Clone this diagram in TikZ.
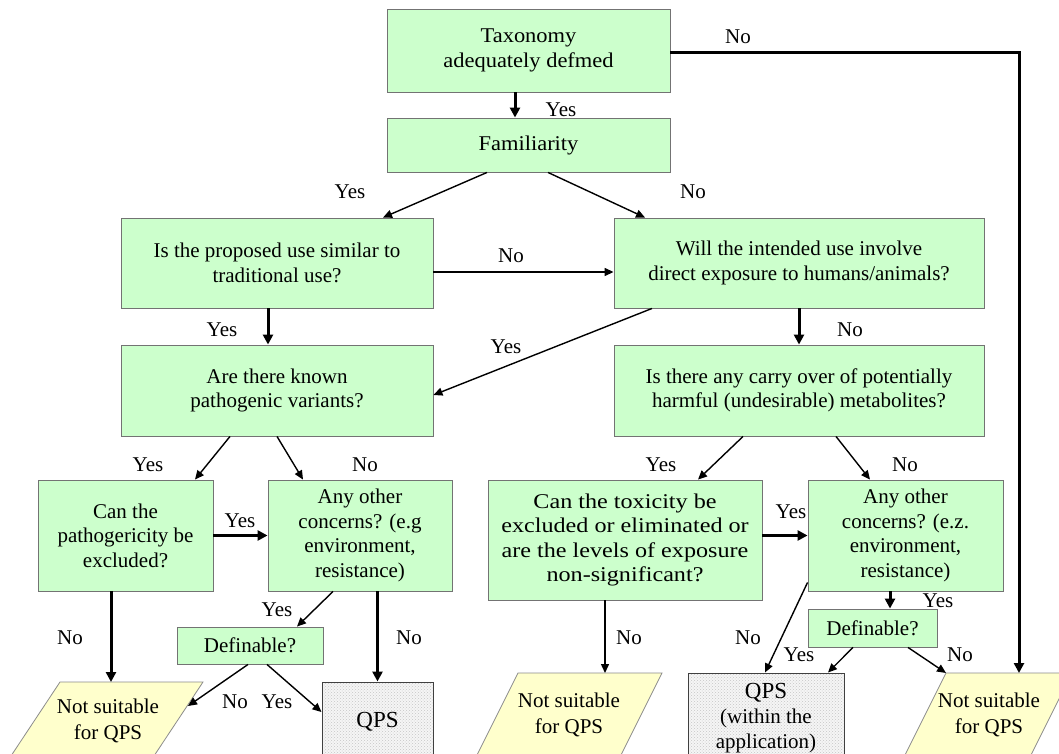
\documentclass[tikz,border=0pt]{standalone}
\usepackage{fontspec}
\setmainfont{Liberation Serif}
\newfontfamily\widefont{Liberation Serif}[FakeStretch=1.15]
\newfontfamily\semiwide{Liberation Serif}[FakeStretch=1.07]
\usetikzlibrary{arrows.meta,patterns,calc}
\definecolor{boxgreen}{HTML}{CCFFCC}
\definecolor{boxyellow}{HTML}{FFFFCC}
\tikzset{
  box/.style={draw=black!55, line width=0.9pt, fill=boxgreen, inner sep=0pt, align=center,
    font=\fontsize{21}{24.5}\selectfont},
  qpsbox/.style={draw=black!75, line width=1pt, preaction={fill=gray!8}, pattern=crosshatch dots,
    pattern color=gray!45, inner sep=0pt, align=center, font=\fontsize{21}{25}\selectfont},
  nsshape/.style={draw=black!45, line width=0.8pt, fill=boxyellow},
  nstext/.style={inner sep=0pt, align=center, font=\fontsize{21}{26}\selectfont},
  lbl/.style={inner sep=0pt, font=\fontsize{21}{24}\selectfont},
  conn/.style={line width=1.4pt, -{Triangle[length=9pt,width=8pt]}},
  boldconn/.style={line width=3pt, -{Triangle[length=10pt,width=10pt]}}
}
\begin{document}
\begin{tikzpicture}[x=1pt,y=-1pt]
\useasboundingbox (0,0) rectangle (1059,754);
\clip (0,0) rectangle (1059,754);
\fill[white] (0,0) rectangle (1059,754);

% green boxes
\node[box, minimum width=283pt, minimum height=83pt] (tax) at (528.5,50.5) {\semiwide Taxonomy\\\semiwide adequately defmed};
\node[box, minimum width=283pt, minimum height=54pt] (fam) at (528.5,145) {\semiwide Familiarity};
\node[box, minimum width=312pt, minimum height=90pt] (trad) at (277,263) {Is the proposed use similar to\\traditional use?};
\node[box, minimum width=370pt, minimum height=90pt] (will) at (799,263) {Will the intended use involve\\direct exposure to humans/animals?};
\node[box, minimum width=312pt, minimum height=91pt] (known) at (277,390.5) {Are there known\\pathogenic variants?};
\node[box, minimum width=370pt, minimum height=91pt] (carry) at (799,390.5) {Is there any carry over of potentially\\harmful (undesirable) metabolites?};
\node[box, minimum width=175pt, minimum height=111pt] (canpath) at (125.5,535.5) {Can the\\pathogericity be\\excluded?};
\node[box, minimum width=184pt, minimum height=111pt] (other1) at (360,535.5) {Any other\\concerns? (e.g\\environment,\\resistance)};
\node[box, minimum width=274pt, minimum height=120pt] (tox) at (625,540) {\widefont Can the toxicity be\\\widefont excluded or eliminated or\\\widefont are the levels of exposure\\\widefont non-significant?};
\node[box, minimum width=195pt, minimum height=111pt] (other2) at (905.5,535.5) {Any other\\concerns? (e.z.\\environment,\\resistance)};
\node[box, minimum width=146pt, minimum height=37pt] (def1) at (250,645.5) {Definable?};
\node[box, minimum width=129pt, minimum height=38pt] (def2) at (872.5,628) {Definable?};

% QPS boxes
\node[qpsbox, minimum width=111pt, minimum height=80pt] (qps1) at (377.5,722) {\fontsize{23}{26}\selectfont QPS};
\node[qpsbox, minimum width=156pt, minimum height=90pt] (qps2) at (766,718) {{\fontsize{23}{25}\selectfont QPS}\\(within the\\application)};

% not suitable parallelograms
\draw[nsshape] (60,682) -- (203,682) -- (150,762) -- (7,762) -- cycle;
\node[nstext] (ns1) at (108,721) {Not suitable\\for QPS};
\coordinate (ns1top) at (111,682);
\coordinate (ns1r) at (188,706);
\draw[nsshape] (518,673) -- (662,673) -- (617,763) -- (473,763) -- cycle;
\node[nstext] (ns2) at (569,715) {Not suitable\\for QPS};
\coordinate (ns2top) at (605,673);
\draw[nsshape] (946,673) -- (1072,673) -- (1027,763) -- (901,763) -- cycle;
\node[nstext] (ns3) at (989,715) {Not suitable\\for QPS};
\coordinate (ns3top) at (1019,673);
\coordinate (ns3tl) at (946,673);

% connectors
\draw[boldconn] ([xshift=-13.5pt]tax.south) -- ([xshift=-13.5pt]fam.north);
\draw[boldconn] ([yshift=-2.5pt]tax.east) -| (ns3top);
\draw[conn] ([xshift=-41.5pt]fam.south) -- ([xshift=106pt]trad.north);
\draw[conn] ([xshift=19.5pt]fam.south) -- ([xshift=-154pt]will.north);
\draw[conn] ([yshift=-9pt]trad.east) -- ([yshift=-9pt]will.west);
\draw[boldconn] ([xshift=-9pt]trad.south) -- ([xshift=-9pt]known.north);
\draw[boldconn] (will.south) -- (carry.north);
\draw[conn] ([xshift=-147pt]will.south) -- ([yshift=-4.5pt]known.east);
\draw[conn] ([xshift=-47pt]known.south) -- ([xshift=69.5pt]canpath.north);
\draw[conn] (known.south) -- ([xshift=-57pt]other1.north);
\draw[boldconn] (canpath.east) -- (other1.west);
\draw[conn] ([xshift=-56pt]carry.south) -- ([xshift=73pt]tox.north);
\draw[conn] ([xshift=37pt]carry.south) -- ([xshift=-35.5pt]other2.north);
\draw[boldconn] (tox.east |- other2.west) -- (other2.west);
\draw[boldconn] (canpath.south -| ns1top) -- (ns1top);
\draw[conn] ([xshift=-27pt]other1.south) -- ([xshift=47pt]def1.north);
\draw[boldconn] (other1.south -| qps1.north) -- (qps1.north);
\draw[conn] ([xshift=-2pt]def1.south) -- (ns1r);
\draw[conn] ([xshift=17pt]def1.south) -- ([yshift=10pt]qps1.west);
\draw[boldconn] ([xshift=17.5pt]def2.north |- other2.south) -- ([xshift=17.5pt]def2.north);
\draw[conn] ([yshift=9pt]other2.south west) -- ([xshift=-1pt]qps2.north);
\draw[conn] ([xshift=-19.5pt]def2.south) -- ([xshift=62pt]qps2.north);
\draw[conn] ([xshift=35.5pt]def2.south) -- (ns3tl);
\draw[conn] (tox.south -| ns2top) -- (ns2top);

% labels
\node[lbl] (l1) at (738,37) {No};
\node[lbl] (l2) at (561,110) {Yes};
\node[lbl] (l3) at (350,192) {Yes};
\node[lbl] (l4) at (693,192) {No};
\node[lbl] (l5) at (511,256) {No};
\node[lbl] (l6) at (222,330) {Yes};
\node[lbl] (l7) at (850,330) {No};
\node[lbl] (l8) at (506,347) {Yes};
\node[lbl] (l9) at (148,465) {Yes};
\node[lbl] (l10) at (365,465) {No};
\node[lbl] (l11) at (240,521) {Yes};
\node[lbl] (l12) at (661,465) {Yes};
\node[lbl] (l13) at (905,465) {No};
\node[lbl] (l14) at (791,512) {Yes};
\node[lbl] (l15) at (70,638) {No};
\node[lbl] (l16) at (277,610) {Yes};
\node[lbl] (l17) at (409,638) {No};
\node[lbl] (l18) at (235,702) {No};
\node[lbl] (l19) at (277,702) {Yes};
\node[lbl] (l20) at (629,638) {No};
\node[lbl] (l21) at (748,638) {No};
\node[lbl] (l22) at (938,601) {Yes};
\node[lbl] (l23) at (799,655) {Yes};
\node[lbl] (l24) at (960,655) {No};
\end{tikzpicture}
\end{document}
